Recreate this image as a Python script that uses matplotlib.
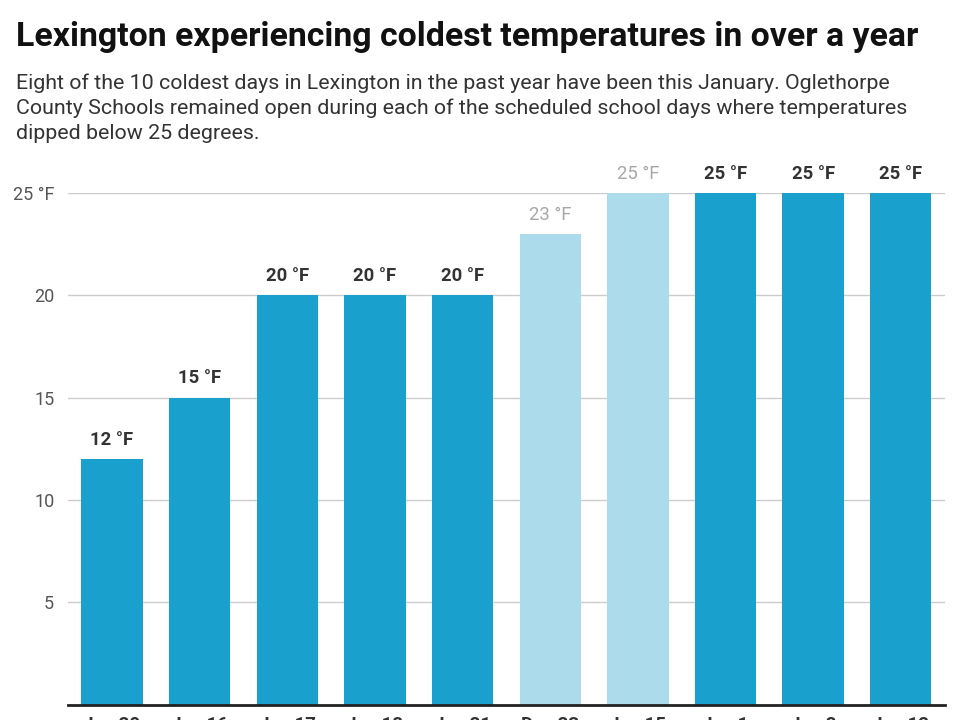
import matplotlib as mpl
mpl.use('Agg')
import matplotlib.pyplot as plt

days = ['Jan 20', 'Jan 16', 'Jan 17', 'Jan 18', 'Jan 21',
        'Dec 23', 'Jan 15', 'Jan 1', 'Jan 8', 'Jan 12']
temps = [12, 15, 20, 20, 20, 23, 25, 25, 25, 25]
this_january = [True, True, True, True, True, False, False, True, True, True]

dark = '#1aa0cc'
light = '#acdcec'

plt.rcParams['font.family'] = ['Roboto', 'DejaVu Sans']

fig = plt.figure(figsize=(9.6, 7.2), dpi=100)
ax = fig.add_axes([0.071, 0.021, 0.913, 0.711])

colors = [dark if t else light for t in this_january]
x = range(len(days))
ax.bar(x, temps, width=0.7, color=colors, zorder=2)

for i, (v, t) in enumerate(zip(temps, this_january)):
    if t:
        ax.text(i, v + 0.5, f'{v} °F', ha='center', va='bottom', fontsize=13.3,
                fontweight='bold', color='#333333', clip_on=False)
    else:
        ax.text(i, v + 0.5, f'{v} °F', ha='center', va='bottom', fontsize=13.3,
                color='#a8a8a8', clip_on=False)

ax.set_xlim(-0.5, len(days) - 0.5)
ax.set_ylim(0, 25)
ax.set_yticks([5, 10, 15, 20, 25])
ax.set_yticklabels(['5', '10', '15', '20', '25 °F'])
ax.set_xticks(list(x))
ax.set_xticklabels(days)
ax.tick_params(axis='y', length=0, pad=10, labelsize=13, labelcolor='#555555')
ax.tick_params(axis='x', length=0, pad=8, labelsize=13.5, labelcolor='#333333')
for lbl in ax.get_xticklabels():
    lbl.set_fontweight('bold')
ax.grid(axis='y', color='#cccccc', linewidth=1, zorder=0)
for s in ['top', 'right', 'left']:
    ax.spines[s].set_visible(False)
ax.spines['bottom'].set_color('#222222')
ax.spines['bottom'].set_linewidth(2)
ax.spines['bottom'].set_zorder(3)

fig.text(0.017, 0.949, 'Lexington experiencing coldest temperatures in over a year',
         fontsize=24.4, fontweight='bold', color='#111111', va='center')
fig.text(0.017, 0.850,
         'Eight of the 10 coldest days in Lexington in the past year have been this January. Oglethorpe\n'
         'County Schools remained open during each of the scheduled school days where temperatures\n'
         'dipped below 25 degrees.',
         fontsize=15.4, color='#333333', va='center', linespacing=1.36)

fig.savefig('out.png', dpi=100)
